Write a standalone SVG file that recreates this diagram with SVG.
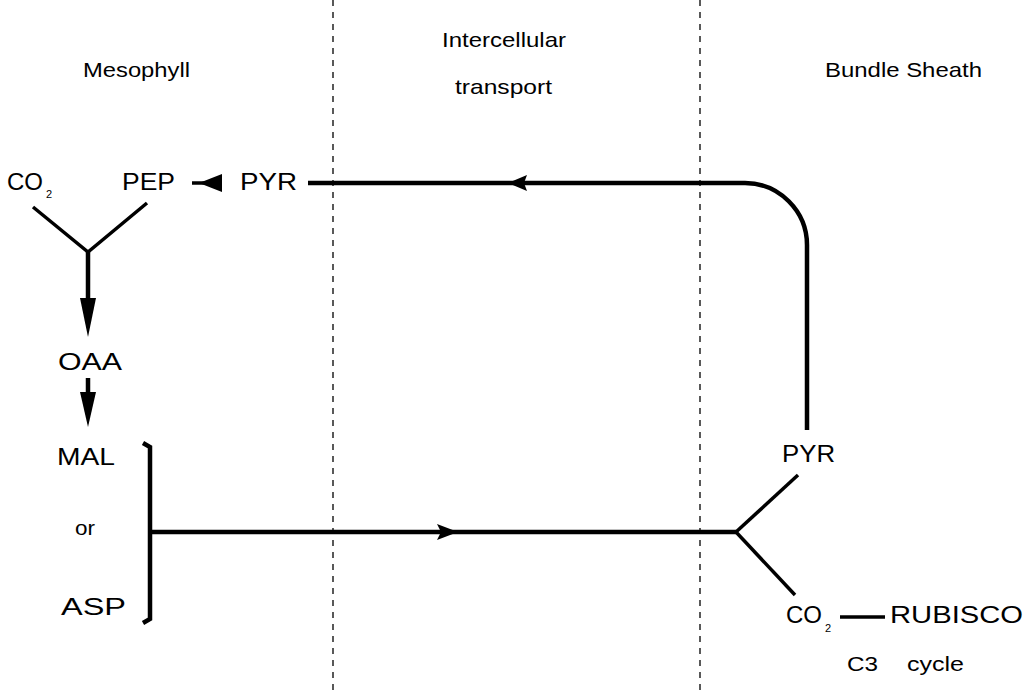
<svg xmlns="http://www.w3.org/2000/svg" width="1029" height="692" viewBox="0 0 1029 692">
<style>
.hd{font-family:"Liberation Sans",Arial,sans-serif;font-size:21px;fill:#000}
.mt{font-family:"Liberation Sans",Arial,sans-serif;font-size:24px;fill:#000}
.sub{font-family:"Liberation Sans",Arial,sans-serif;font-size:11px;fill:#000}
.sm{font-family:"Liberation Sans",Arial,sans-serif;font-size:21px;fill:#000}
.ln{stroke:#000;fill:none;stroke-width:4.5}
.th{stroke:#000;fill:none;stroke-width:3.5}
.dash{stroke:#000;stroke-width:1.3;stroke-dasharray:6,6;fill:none}
</style>
<rect width="1029" height="692" fill="#fff"/>
<g id="dividers">
<line class="dash" x1="333" y1="0" x2="333" y2="692"/>
<line class="dash" x1="700" y1="0" x2="700" y2="692"/>
</g>
<g id="headers">
<text class="hd" x="83" y="77" textLength="107" lengthAdjust="spacingAndGlyphs">Mesophyll</text>
<text class="hd" x="442" y="47" textLength="124" lengthAdjust="spacingAndGlyphs">Intercellular</text>
<text class="hd" x="455" y="94" textLength="97" lengthAdjust="spacingAndGlyphs">transport</text>
<text class="hd" x="825" y="77" textLength="157" lengthAdjust="spacingAndGlyphs">Bundle Sheath</text>
</g>
<g id="n-co2-m"><text class="mt" x="7" y="190" textLength="36" lengthAdjust="spacingAndGlyphs">CO</text><text class="sub" x="46" y="198">2</text></g>
<g id="n-pep"><text class="mt" x="122" y="190" textLength="53" lengthAdjust="spacingAndGlyphs">PEP</text></g>
<g id="n-pyr-m"><text class="mt" x="240" y="190" textLength="57" lengthAdjust="spacingAndGlyphs">PYR</text></g>
<g id="n-oaa"><text class="mt" x="58" y="370" textLength="64" lengthAdjust="spacingAndGlyphs">OAA</text></g>
<g id="n-mal"><text class="mt" x="57" y="465" textLength="58" lengthAdjust="spacingAndGlyphs">MAL</text></g>
<g id="n-or"><text class="sm" x="75" y="535" textLength="20" lengthAdjust="spacingAndGlyphs">or</text></g>
<g id="n-asp"><text class="mt" x="61" y="615" textLength="65" lengthAdjust="spacingAndGlyphs">ASP</text></g>
<g id="n-pyr-b"><text class="mt" x="782" y="462" textLength="53" lengthAdjust="spacingAndGlyphs">PYR</text></g>
<g id="n-co2-b"><text class="mt" x="786" y="623" textLength="36" lengthAdjust="spacingAndGlyphs">CO</text><text class="sub" x="825" y="632">2</text></g>
<g id="n-rubisco"><text class="mt" x="890" y="623" textLength="133" lengthAdjust="spacingAndGlyphs">RUBISCO</text></g>
<g id="n-c3"><text class="sm" x="847" y="671" textLength="31" lengthAdjust="spacingAndGlyphs">C3</text><text class="sm" x="907" y="671" textLength="57" lengthAdjust="spacingAndGlyphs">cycle</text></g>
<g id="connectors">
<path class="ln" d="M308,183 L745,183 C779,183 807,211 807,245 L807,430"/>
<polygon points="508,183 527,175 524,183 527,191" fill="#000"/>
<line class="th" x1="192" y1="183" x2="222" y2="183"/>
<polygon points="199,183 222,174 222,192" fill="#000"/>
<polyline class="th" points="33,207 88,252 147,203"/>
<line class="ln" x1="88" y1="252" x2="88" y2="305"/>
<polygon points="80,298 96,298 88,337" fill="#000"/>
<line class="ln" x1="88" y1="378" x2="88" y2="398"/>
<polygon points="80,392 96,392 88,427" fill="#000"/>
<path class="ln" d="M143,443 L150,447 L150,619 L143,623"/>
<line class="ln" x1="150" y1="532" x2="736" y2="532"/>
<polygon points="458,532 437,524 441,532 437,540" fill="#000"/>
<line class="th" x1="736" y1="532" x2="798" y2="475"/>
<line class="th" x1="736" y1="532" x2="795" y2="595"/>
<line class="th" x1="840" y1="617" x2="885" y2="617"/>
</g>
</svg>
